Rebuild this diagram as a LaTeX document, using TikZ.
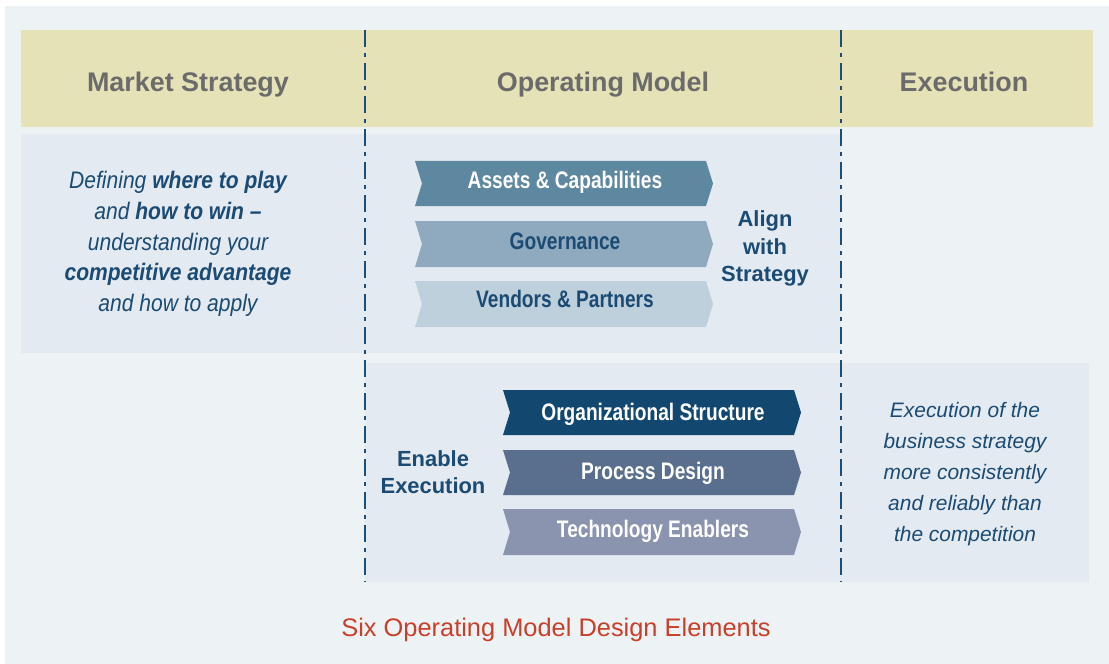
\documentclass[tikz,border=0pt]{standalone}
\usepackage{fontspec}
\setmainfont{Liberation Sans}
\newfontfamily\condfont[FakeStretch=0.88]{Liberation Sans}
\newfontfamily\chevfont[FakeStretch=0.8]{Liberation Sans}
\definecolor{bgout}{HTML}{EDF2F5}
\definecolor{panel}{HTML}{E3EAF1}
\definecolor{headband}{HTML}{E6E2B7}
\definecolor{headtext}{HTML}{6B6B6B}
\definecolor{navy}{HTML}{1B4A72}
\definecolor{sepline}{HTML}{1B4F7A}
\definecolor{cA}{HTML}{5E87A0}
\definecolor{cB}{HTML}{8FAABF}
\definecolor{cC}{HTML}{BDD0DC}
\definecolor{cD}{HTML}{12476F}
\definecolor{cE}{HTML}{5A6E8E}
\definecolor{cF}{HTML}{8A94AE}
\definecolor{capred}{HTML}{C8402A}
\tikzset{
  headlabel/.style={text=headtext, anchor=base, font=\bfseries\fontsize{27}{30}\selectfont},
  chevtext/.style={anchor=base, font=\chevfont\bfseries\fontsize{24}{28}\selectfont},
  sidelabel/.style={text=navy, align=center, font=\bfseries\fontsize{22}{27.5}\selectfont},
  separator/.style={draw=sepline, line width=1.5bp, dash pattern=on 17bp off 6bp on 4bp off 6bp},
}
\newcommand\chevbox[8]{%
  \fill[#5] (#2,#3) -- ({#2+291},#3) -- ({#2+298},{(#3+#4)/2}) -- ({#2+291},#4) -- (#2,#4) -- ({#2+7},{(#3+#4)/2}) -- cycle;
  \node[chevtext, text=#6] (#1) at ({#2+150},{(#3+#4)/2+#8}) {#7};}
\begin{document}
\begin{tikzpicture}[x=1bp, y=-1bp]
\useasboundingbox (0,0) rectangle (1109,664);
\fill[white] (0,0) rectangle (1109,664);
\fill[bgout] (5,6) rectangle (1109,664);
\fill[headband] (21,30) rectangle (1093,127);
\fill[panel] (21,134) rectangle (841,353);
\fill[panel] (365,363) rectangle (1089,582);
\node[headlabel] (hms) at (188,92) {Market Strategy};
\node[headlabel] (hom) at (603,91.5) {Operating Model};
\node[headlabel] (hex) at (964,91.5) {Execution};
\coordinate (s1t) at (365,30); \coordinate (s1b) at (365,582);
\coordinate (s2t) at (841,30); \coordinate (s2b) at (841,582);
\draw[separator] (s1t) -- (s1b);
\draw[separator] (s2t) -- (s2b);
\chevbox{assets}{415}{161}{206}{cA}{white}{Assets \& Capabilities}{5.5}
\chevbox{gov}{415}{221}{267}{cB}{navy}{Governance}{5}
\chevbox{vend}{415}{281}{327}{cC}{navy}{Vendors \& Partners}{3.5}
\chevbox{org}{503}{390}{435}{cD}{white}{Organizational Structure}{7.5}
\chevbox{proc}{503}{450}{495}{cE}{white}{Process Design}{7}
\chevbox{tech}{503}{509}{555}{cF}{white}{Technology Enablers}{5}
\node[sidelabel] (align) at (765,248.5) {Align\\with\\Strategy};
\node[sidelabel] (enable) at (433,472) {Enable\\Execution};
\node[text=navy, align=center, font=\condfont\itshape\fontsize{24}{30.8}\selectfont] (left) at (178,244)
  {Defining \textbf{where to play}\\and \textbf{how to win –}\\understanding your\\\textbf{competitive advantage}\\and how to apply};
\node[text=navy, align=center, font=\itshape\fontsize{21}{31}\selectfont] (right) at (965,474)
  {Execution of the\\business strategy\\more consistently\\and reliably than\\the competition};
\node[text=capred, font=\fontsize{25.5}{30}\selectfont] (cap) at (556,630) {Six Operating Model Design Elements};
\end{tikzpicture}
\end{document}
